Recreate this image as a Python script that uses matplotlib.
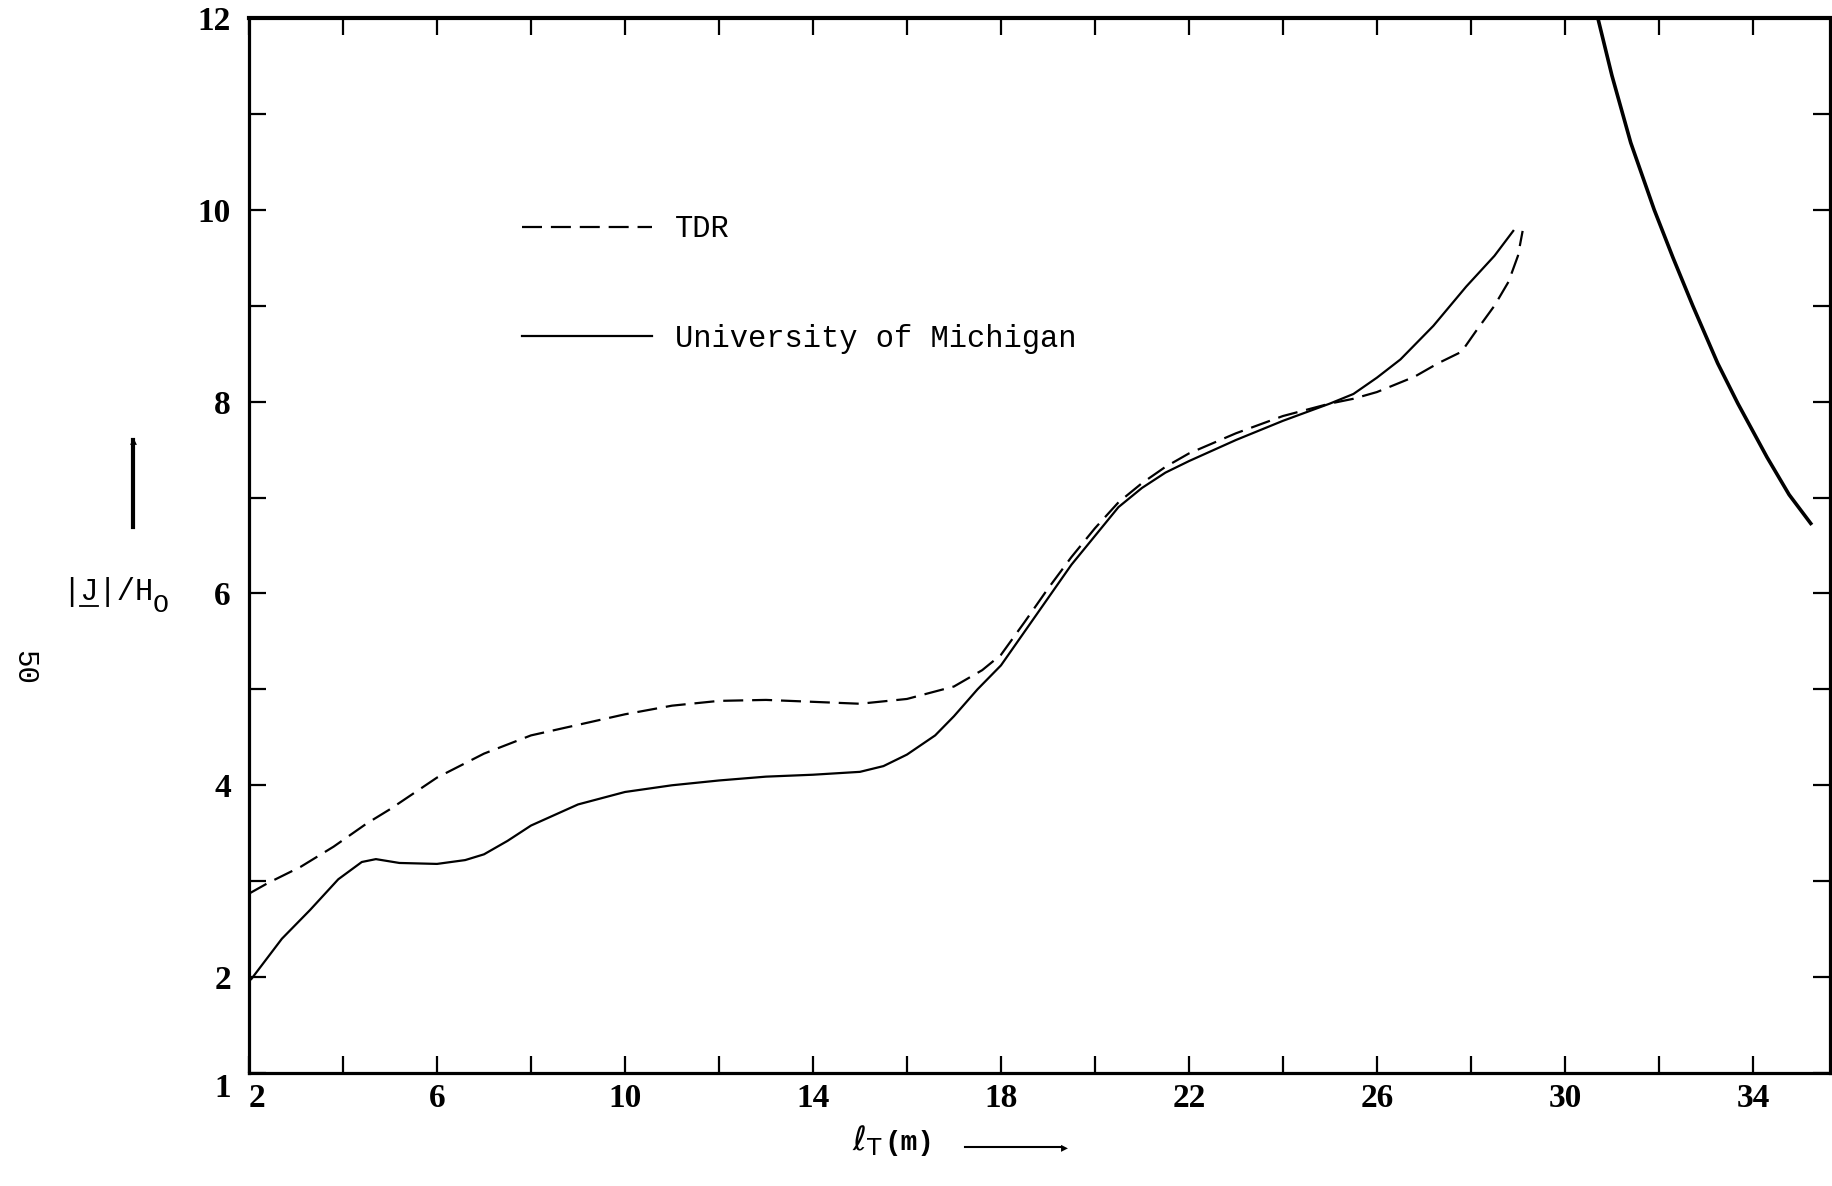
import numpy as np
import matplotlib.pyplot as plt
from matplotlib.ticker import FixedLocator, NullFormatter

# TDR curve (dashed)
tdr_x = [2.0, 2.4, 3.1, 3.8, 4.5, 5.0, 6.0, 7.0, 8.0, 9.0, 10.0, 11.0, 12.0, 13.0,
         14.0, 15.0, 16.0, 17.0, 17.6, 18.0, 18.5, 19.0, 19.5, 20.0, 20.5, 21.0,
         21.5, 22.0, 23.0, 24.0, 25.0, 25.5, 26.0, 26.5, 26.8, 27.3, 27.8, 28.1,
         28.5, 28.8, 29.0, 29.1]
tdr_y = [2.87, 2.98, 3.15, 3.36, 3.6, 3.75, 4.08, 4.33, 4.52, 4.63, 4.74, 4.83, 4.88, 4.89,
         4.87, 4.85, 4.9, 5.03, 5.2, 5.36, 5.7, 6.05, 6.38, 6.68, 6.95, 7.15,
         7.32, 7.46, 7.67, 7.85, 7.98, 8.03, 8.1, 8.2, 8.26, 8.4, 8.52, 8.73,
         9.0, 9.25, 9.52, 9.78]

# University of Michigan curve (solid)
um_x = [2.05, 2.7, 3.3, 3.9, 4.4, 4.7, 5.2, 6.0, 6.6, 7.0, 7.5, 8.0, 9.0, 10.0, 11.0,
        12.0, 13.0, 14.0, 15.0, 15.5, 16.0, 16.6, 17.0, 17.5, 18.0, 18.5, 19.0,
        19.5, 20.0, 20.5, 21.0, 21.5, 22.0, 23.0, 24.0, 25.0, 25.5, 26.0, 26.5,
        27.2, 27.9, 28.5, 28.9]
um_y = [1.98, 2.4, 2.7, 3.02, 3.2, 3.23, 3.19, 3.18, 3.22, 3.28, 3.42, 3.58, 3.8, 3.93, 4.0,
        4.05, 4.09, 4.11, 4.14, 4.2, 4.32, 4.52, 4.72, 5.0, 5.25, 5.6, 5.95,
        6.3, 6.6, 6.9, 7.1, 7.26, 7.38, 7.6, 7.8, 7.98, 8.08, 8.25, 8.44,
        8.79, 9.2, 9.52, 9.78]

# steep curve at the right edge
r_x = [30.7, 31.0, 31.4, 31.9, 32.3, 32.72, 33.25, 33.68, 34.3, 34.77, 35.23]
r_y = [12.0, 11.4, 10.7, 10.0, 9.5, 9.0, 8.4, 7.98, 7.42, 7.03, 6.73]

x_major = [2, 6, 10, 14, 18, 22, 26, 30, 34]
x_minor = [4, 8, 12, 16, 20, 24, 28, 32]
y_major = [1, 2, 4, 6, 8, 10, 12]
y_minor = [3, 5, 7, 9, 11]

W, H = 1832, 1186
fig = plt.figure(figsize=(W / 100, H / 100), dpi=100)
ax = fig.add_axes([249 / W, 1 - 1073 / H, (1830 - 249) / W, (1073 - 18) / H])

mono = 'Liberation Mono'

ax.plot(tdr_x, tdr_y, color='black', lw=1.6, dashes=(9, 4), label='TDR')
ax.plot(um_x, um_y, color='black', lw=1.6, label='University of Michigan')
ax.plot(r_x, r_y, color='black', lw=2.6)

ax.set_xlim(2, 35.64)
ax.set_ylim(1, 12)

for s in ax.spines.values():
    s.set_linewidth(2.3)
ax.spines['top'].set_linewidth(3)

ax.xaxis.set_major_locator(FixedLocator(x_major))
ax.xaxis.set_minor_locator(FixedLocator(x_minor))
ax.yaxis.set_major_locator(FixedLocator(y_major))
ax.yaxis.set_minor_locator(FixedLocator(y_minor))
ax.xaxis.set_minor_formatter(NullFormatter())
ax.yaxis.set_minor_formatter(NullFormatter())

ax.tick_params(which='both', direction='in', top=True, right=True,
               length=12, width=1.6)
ax.tick_params(axis='x', pad=7, labelsize=24)
ax.tick_params(axis='y', pad=13, labelsize=24)
for lab in ax.get_xticklabels() + ax.get_yticklabels():
    lab.set_family('Liberation Serif')
    lab.set_weight('bold')
# the "2" sits to the right of the corner, the "1" a bit low
ax.get_xticklabels()[0].set_horizontalalignment('left')
ax.get_yticklabels()[0].set_verticalalignment('top')

leg = ax.legend(loc='upper left', bbox_to_anchor=(0.1727, 0.814), frameon=False,
                prop={'family': mono, 'size': 22}, handlelength=4.25,
                handletextpad=0.76, labelspacing=2.6, borderpad=0,
                borderaxespad=0)

# axis labels, typed like the original
fig.text(852 / W, 1 - 1150 / H, r'$\ell_{\mathrm{T}}$', fontsize=24, ha='left', va='baseline')
fig.text(884 / W, 1 - 1150 / H, '(m)', fontsize=20, family=mono, weight='bold',
         ha='left', va='baseline')
fig.add_artist(plt.Line2D([965 / W, 1062 / W], [1 - 1147 / H, 1 - 1147 / H],
                          color='black', lw=1.5))
fig.text(1068 / W, 1 - 1147 / H, '\u25b8', fontsize=10, ha='right', va='center')

fig.text(62 / W, 1 - 600 / H, '|J|/H', fontsize=22, family=mono, ha='left', va='baseline')
fig.text(153 / W, 1 - 612 / H, 'O', fontsize=19, family=mono, ha='left', va='baseline')
fig.add_artist(plt.Line2D([80 / W, 98 / W], [1 - 606 / H, 1 - 606 / H],
                          color='black', lw=1.3))
fig.add_artist(plt.Line2D([133 / W, 133 / W], [1 - 527 / H, 1 - 440 / H],
                          color='black', lw=3))
fig.text(133 / W, 1 - 440 / H, '\u25b4', fontsize=10, ha='center', va='center')

fig.text(24 / W, 1 - 668 / H, '50', fontsize=21, family=mono, rotation=-90,
         ha='center', va='center')

plt.savefig('out.png', dpi=100)
